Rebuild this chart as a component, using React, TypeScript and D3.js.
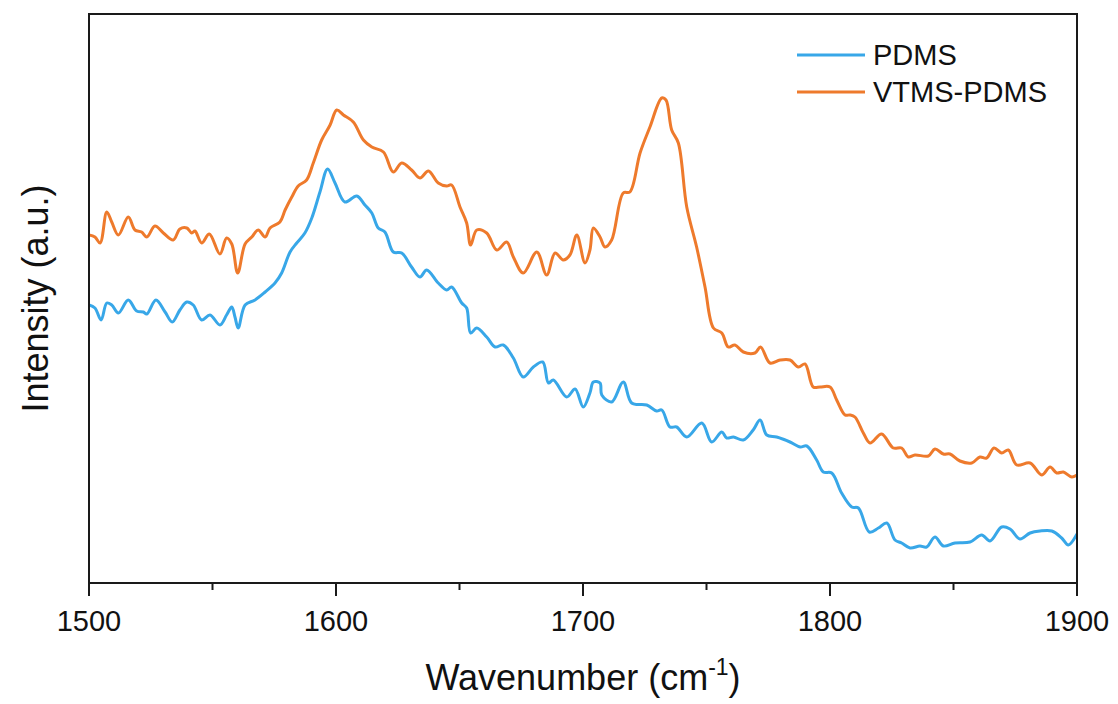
import * as d3 from "d3";

// Raman spectra: [wavenumber (cm-1), intensity (a.u.)]
const pdms: [number, number][] = [
  [1500, 278], [1502.4, 275], [1504.9, 263], [1507.2, 280], [1509.2, 278], [1511.9, 270],
  [1515.9, 283], [1519.3, 272], [1522.0, 271], [1523.4, 269], [1527.1, 283], [1530.8, 271],
  [1533.7, 261], [1536.8, 273], [1539.6, 281], [1542.2, 278], [1545.6, 263], [1549.0, 268],
  [1553.0, 258], [1555.7, 268], [1557.8, 276], [1559.1, 266], [1560.4, 255], [1563.2, 278],
  [1567.2, 283], [1571.3, 291], [1575.3, 300], [1578.0, 310], [1581.4, 331], [1584.1, 340],
  [1587.4, 350], [1590.2, 365], [1593.5, 391], [1596.6, 414], [1599.6, 400], [1603.6, 381],
  [1608.4, 387], [1611.7, 378], [1614.5, 370], [1617.1, 355], [1619.8, 351], [1623.2, 331],
  [1626.6, 330], [1630.6, 316], [1634.0, 306], [1636.7, 313], [1641.4, 300], [1644.8, 293],
  [1646.8, 296], [1650.9, 280], [1652.9, 275], [1654.5, 250], [1657.0, 255], [1661.0, 246],
  [1664.4, 236], [1667.7, 238], [1671.8, 225], [1675.8, 206], [1679.9, 216], [1683.7, 221],
  [1686.0, 200], [1688.0, 203], [1693.4, 186], [1696.8, 194], [1700.1, 176], [1702.8, 190],
  [1704.2, 201], [1706.9, 200], [1707.6, 188], [1711.6, 181], [1716.3, 201], [1719.7, 180],
  [1725.8, 178], [1729.8, 172], [1731.9, 173], [1735.2, 156], [1737.9, 156], [1742.0, 146],
  [1748.1, 160], [1752.1, 141], [1756.2, 151], [1758.2, 145], [1760.9, 146], [1764.9, 143],
  [1768.9, 153], [1771.7, 163], [1774.4, 148], [1778.4, 146], [1783.8, 141], [1787.9, 136],
  [1790.6, 137], [1794.6, 123], [1797.3, 111], [1800.7, 110], [1804.7, 90], [1808.8, 76],
  [1811.5, 75], [1815.9, 51], [1819.6, 55], [1823.0, 60], [1826.3, 43], [1829.0, 40],
  [1832.4, 35], [1836.4, 37], [1839.1, 36], [1842.5, 46], [1845.9, 37], [1850.6, 40],
  [1856.7, 41], [1861.4, 48], [1864.8, 42], [1869.5, 56], [1872.9, 54], [1876.9, 44],
  [1881.0, 50], [1885.0, 52], [1889.8, 52], [1893.8, 45], [1896.5, 38], [1900, 49],
];

const vtmsPdms: [number, number][] = [
  [1500, 348], [1502.4, 346], [1504.5, 340], [1507.2, 371], [1509.2, 361], [1511.9, 348],
  [1515.9, 366], [1518.6, 353], [1521.3, 351], [1523.4, 346], [1526.7, 357], [1530.1, 350],
  [1534.1, 343], [1536.8, 354], [1539.6, 355], [1541.6, 350], [1542.9, 352], [1545.6, 340],
  [1548.7, 349], [1553.0, 329], [1555.7, 345], [1557.8, 339], [1560.2, 310], [1563.2, 339],
  [1565.9, 346], [1568.5, 353], [1571.3, 346], [1573.3, 355], [1577.3, 361], [1579.4, 373],
  [1582.1, 386], [1584.7, 397], [1588.1, 403], [1590.8, 420], [1594.2, 443], [1597.6, 458],
  [1600.3, 473], [1603.0, 468], [1607.0, 461], [1611.1, 443], [1614.5, 436], [1619.2, 431],
  [1623.2, 411], [1626.6, 420], [1630.6, 413], [1634.0, 405], [1637.4, 412], [1641.4, 400],
  [1644.8, 397], [1646.8, 398], [1650.2, 376], [1652.9, 360], [1654.5, 338], [1657.0, 353],
  [1661.0, 350], [1665.1, 333], [1669.1, 341], [1671.8, 326], [1675.8, 310], [1681.3, 331],
  [1685.3, 308], [1688.7, 330], [1692.0, 323], [1694.7, 328], [1697.5, 348], [1700.8, 320],
  [1702.8, 333], [1704.2, 355], [1706.9, 346], [1708.9, 336], [1711.6, 343], [1716.3, 390],
  [1719.0, 391], [1723.1, 430], [1727.1, 456], [1731.9, 485], [1733.6, 483], [1735.9, 453],
  [1738.6, 440], [1742.0, 376], [1746.0, 336], [1749.4, 296], [1752.8, 255], [1756.2, 250],
  [1758.8, 236], [1761.5, 238], [1764.9, 231], [1769.6, 230], [1771.9, 236], [1775.7, 220],
  [1779.8, 223], [1783.8, 223], [1787.2, 216], [1789.9, 219], [1793.2, 196], [1796.0, 196],
  [1800.0, 196], [1802.7, 183], [1806.1, 168], [1808.1, 168], [1810.1, 166], [1813.5, 150],
  [1816.2, 140], [1820.9, 149], [1825.6, 135], [1829.0, 135], [1831.7, 126], [1834.4, 128],
  [1839.8, 127], [1842.5, 134], [1845.9, 129], [1848.6, 129], [1852.6, 122], [1857.4, 120],
  [1860.7, 126], [1863.4, 125], [1866.4, 135], [1869.5, 130], [1872.2, 133], [1875.6, 118],
  [1881.0, 120], [1885.7, 108], [1889.1, 116], [1891.8, 110], [1894.5, 111], [1897.9, 106],
  [1900, 108],
];

const seriesNames = ["PDMS", "VTMS-PDMS"];
const seriesColors = ["#38a7e8", "#ee7a2c"];
const xTicks = [1500, 1600, 1700, 1800, 1900];
const xMinorTicks = [1550, 1650, 1750, 1850];

const W = 1118;
const H = 704;
const plot = { left: 89, right: 1077, top: 14, bottom: 583 };
const font = "Arial, 'Liberation Sans', sans-serif";

export default function App() {
  const x = d3.scaleLinear().domain([1500, 1900]).range([plot.left, plot.right]);
  const y = d3.scaleLinear().domain([0, 569]).range([plot.bottom, plot.top]);

  const line = d3
    .line<[number, number]>()
    .x((d) => x(d[0]))
    .y((d) => y(d[1]))
    .curve(d3.curveCatmullRom.alpha(0.5));

  const series = [pdms, vtmsPdms];

  return (
    <div style={{ position: "absolute", left: 0, top: 0 }}>
      <svg width={W} height={H} style={{ display: "block", background: "#fff" }}>
        <defs>
          <clipPath id="plotClip">
            <rect x={plot.left} y={plot.top} width={plot.right - plot.left} height={plot.bottom - plot.top} />
          </clipPath>
        </defs>

        <g clipPath="url(#plotClip)">
          {series.map((s, i) => (
            <path
              key={seriesNames[i]}
              d={line(s) || ""}
              fill="none"
              stroke={seriesColors[i]}
              strokeWidth={3}
              strokeLinejoin="round"
            />
          ))}
        </g>

        {/* frame */}
        <rect
          x={plot.left}
          y={plot.top}
          width={plot.right - plot.left}
          height={plot.bottom - plot.top}
          fill="none"
          stroke="#1a1a1a"
          strokeWidth={2}
        />

        {/* bottom axis ticks */}
        {xTicks.map((t) => (
          <g key={t}>
            <line x1={x(t)} x2={x(t)} y1={plot.bottom} y2={plot.bottom + 13} stroke="#1a1a1a" strokeWidth={2} />
            <text x={x(t)} y={631} textAnchor="middle" fontFamily={font} fontSize={29} fill="#111">
              {t}
            </text>
          </g>
        ))}
        {xMinorTicks.map((t) => (
          <line key={t} x1={x(t)} x2={x(t)} y1={plot.bottom} y2={plot.bottom + 7} stroke="#1a1a1a" strokeWidth={2} />
        ))}

        {/* axis titles */}
        <text x={583} y={690} textAnchor="middle" fontFamily={font} fontSize={36} fill="#111">
          Wavenumber (cm
          <tspan fontSize={23} dy={-15}>-1</tspan>
          <tspan dy={15}>)</tspan>
        </text>
        <text
          transform={`translate(48, ${(plot.top + plot.bottom) / 2}) rotate(-90)`}
          textAnchor="middle"
          fontFamily={font}
          fontSize={36}
          fill="#111"
        >
          Intensity (a.u.)
        </text>

        {/* legend */}
        {seriesNames.map((name, i) => (
          <g key={name} transform={`translate(797, ${55 + i * 37})`}>
            <line x1={0} x2={68} y1={0} y2={0} stroke={seriesColors[i]} strokeWidth={3} />
            <text x={76} y={10} fontFamily={font} fontSize={29} fill="#111">
              {name}
            </text>
          </g>
        ))}
      </svg>
    </div>
  );
}
